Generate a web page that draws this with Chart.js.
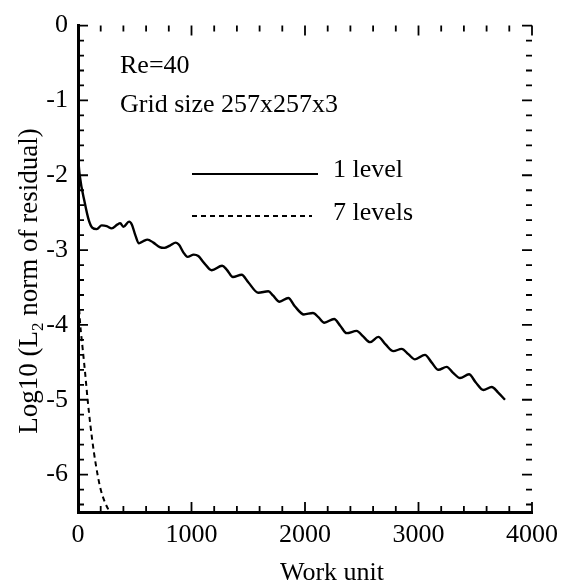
<!DOCTYPE html>
<html><head><meta charset="utf-8">
<script src="https://cdn.jsdelivr.net/npm/chart.js@4/dist/chart.umd.min.js"></script>
<style>html,body{margin:0;padding:0;background:#fff}</style>
</head><body>
<canvas id="c" width="569" height="588"></canvas>
<script>
// ---- data ----
const oneLevelX = [0,15,60,95,125,165,209,253,297,345,372,400,450,475,505,537,576,612,664,720,760,810,862,890,928,965,1020,1060,1110,1178,1270,1310,1365,1442,1500,1589,1677,1720,1775,1853,1910,1990,2070,2120,2170,2257,2310,2367,2455,2510,2573,2646,2710,2778,2852,2910,2969,3057,3115,3175,3248,3305,3366,3445,3505,3571,3645,3700,3762];
const oneLevelY = [-1.75,-2.0,-2.37,-2.6,-2.70,-2.72,-2.67,-2.68,-2.71,-2.66,-2.64,-2.69,-2.62,-2.66,-2.80,-2.91,-2.88,-2.86,-2.90,-2.96,-2.97,-2.94,-2.90,-2.93,-3.03,-3.09,-3.06,-3.08,-3.17,-3.27,-3.21,-3.26,-3.36,-3.33,-3.43,-3.57,-3.55,-3.61,-3.69,-3.64,-3.75,-3.86,-3.84,-3.90,-3.97,-3.92,-4.01,-4.11,-4.08,-4.15,-4.23,-4.16,-4.26,-4.35,-4.32,-4.39,-4.46,-4.40,-4.50,-4.60,-4.56,-4.64,-4.71,-4.66,-4.77,-4.87,-4.83,-4.90,-5.0];
const sevenLevelsX = [0,20,40,62,85,110,140,170,200,240,280,300];
const sevenLevelsY = [-3.55,-4.0,-4.3,-4.63,-5.0,-5.35,-5.7,-5.98,-6.2,-6.38,-6.5,-6.55];
const xTicks = [0,1000,2000,3000,4000];
const yTicks = [0,-1,-2,-3,-4,-5,-6];
const xMinorStep = 200;
const yMinorStep = 0.2;
const seriesNames = ['1 level','7 levels'];
const notes = ['Re=40','Grid size 257x257x3'];
const xTitle = 'Work unit';
const yTitle = ['Log10 (L','2',' norm of residual)'];

const FONT = '"Liberation Serif","Times New Roman",serif';

function pts(xs, ys){ return xs.map((x,i)=>({x:x, y:ys[i]})); }

const decor = {
  id:'decor',
  afterDraw(chart){
    const ctx = chart.ctx, ca = chart.chartArea;
    const xs = chart.scales.x, ys = chart.scales.y;
    ctx.save();
    ctx.strokeStyle = '#000';
    ctx.lineWidth = 1.8;
    // inward ticks on all four sides
    for (let v = xs.min; v <= xs.max + 1e-6; v += xMinorStep){
      const p = xs.getPixelForValue(v);
      const major = Math.abs(v % 1000) < 1e-6;
      const L = major ? 10 : 6;
      ctx.beginPath();
      ctx.moveTo(p, ca.bottom); ctx.lineTo(p, ca.bottom - L);
      ctx.moveTo(p, ca.top); ctx.lineTo(p, ca.top + L);
      ctx.stroke();
    }
    for (let k = 0; ; k++){
      const v = ys.max - k*yMinorStep;
      if (v < ys.min - 1e-6) break;
      const p = ys.getPixelForValue(v);
      const major = Math.abs(v - Math.round(v)) < 1e-6;
      const L = major ? 10 : 6;
      ctx.beginPath();
      ctx.moveTo(ca.left, p); ctx.lineTo(ca.left + L, p);
      ctx.moveTo(ca.right, p); ctx.lineTo(ca.right - L, p);
      ctx.stroke();
    }
    // annotations
    ctx.fillStyle = '#000';
    ctx.font = '26px ' + FONT;
    ctx.textBaseline = 'alphabetic';
    ctx.textAlign = 'left';
    ctx.fillText(notes[0], 120, 73);
    ctx.fillText(notes[1], 120, 112);
    // legend
    ctx.lineWidth = 2.2;
    ctx.beginPath(); ctx.moveTo(192, 174); ctx.lineTo(318, 174); ctx.stroke();
    ctx.setLineDash([5,4]);
    ctx.lineWidth = 2;
    ctx.beginPath(); ctx.moveTo(192, 216); ctx.lineTo(312, 216); ctx.stroke();
    ctx.setLineDash([]);
    ctx.fillText(seriesNames[0], 333, 177);
    ctx.fillText(seriesNames[1], 333, 220);
    // x title
    ctx.textAlign = 'center';
    ctx.fillText(xTitle, 332, 580);
    // y title (rotated, with subscript)
    ctx.translate(37, 281);
    ctx.rotate(-Math.PI/2);
    const big = '27px ' + FONT, small = '17px ' + FONT;
    ctx.font = big;
    const w0 = ctx.measureText(yTitle[0]).width;
    ctx.font = small;
    const w1 = ctx.measureText(yTitle[1]).width;
    ctx.font = big;
    const w2 = ctx.measureText(yTitle[2]).width;
    let x0 = -(w0 + w1 + w2)/2;
    ctx.textAlign = 'left';
    ctx.fillText(yTitle[0], x0, 0);
    ctx.font = small;
    ctx.fillText(yTitle[1], x0 + w0, 6);
    ctx.font = big;
    ctx.fillText(yTitle[2], x0 + w0 + w1, 0);
    ctx.restore();
  }
};

new Chart(document.getElementById('c'), {
  type: 'line',
  data: {
    datasets: [
      { label: seriesNames[0], data: pts(oneLevelX, oneLevelY), borderColor:'#000', borderWidth:2.4,
        pointRadius:0, cubicInterpolationMode:'monotone', fill:false },
      { label: seriesNames[1], data: pts(sevenLevelsX, sevenLevelsY), borderColor:'#000', borderWidth:2,
        borderDash:[5,4], pointRadius:0, cubicInterpolationMode:'monotone', fill:false }
    ]
  },
  options: {
    responsive:false, animation:false, devicePixelRatio:1,
    layout:{ padding:{ left:0, right:37, top:18, bottom:0 } },
    plugins:{ legend:{display:false}, tooltip:{enabled:false} },
    scales:{
      x:{ type:'linear', min:0, max:4000,
        afterBuildTicks:s=>{ s.ticks = xTicks.map(v=>({value:v})); },
        afterFit:s=>{ s.height = 76; },
        grid:{ display:false, drawTicks:false },
        border:{ display:true, color:'#000', width:3 },
        ticks:{ color:'#000', font:{ family:FONT, size:26 }, padding:8, maxRotation:0, autoSkip:false,
          callback:v=>String(v) } },
      y:{ type:'linear', min:-6.5, max:0,
        afterBuildTicks:s=>{ s.ticks = yTicks.map(v=>({value:v})); },
        afterFit:s=>{ s.width = 78; },
        grid:{ display:false, drawTicks:false },
        border:{ display:true, color:'#000', width:3 },
        ticks:{ color:'#000', font:{ family:FONT, size:26 }, padding:10, autoSkip:false,
          callback:v=>String(v) } }
    }
  },
  plugins:[decor]
});
</script>
</body></html>
